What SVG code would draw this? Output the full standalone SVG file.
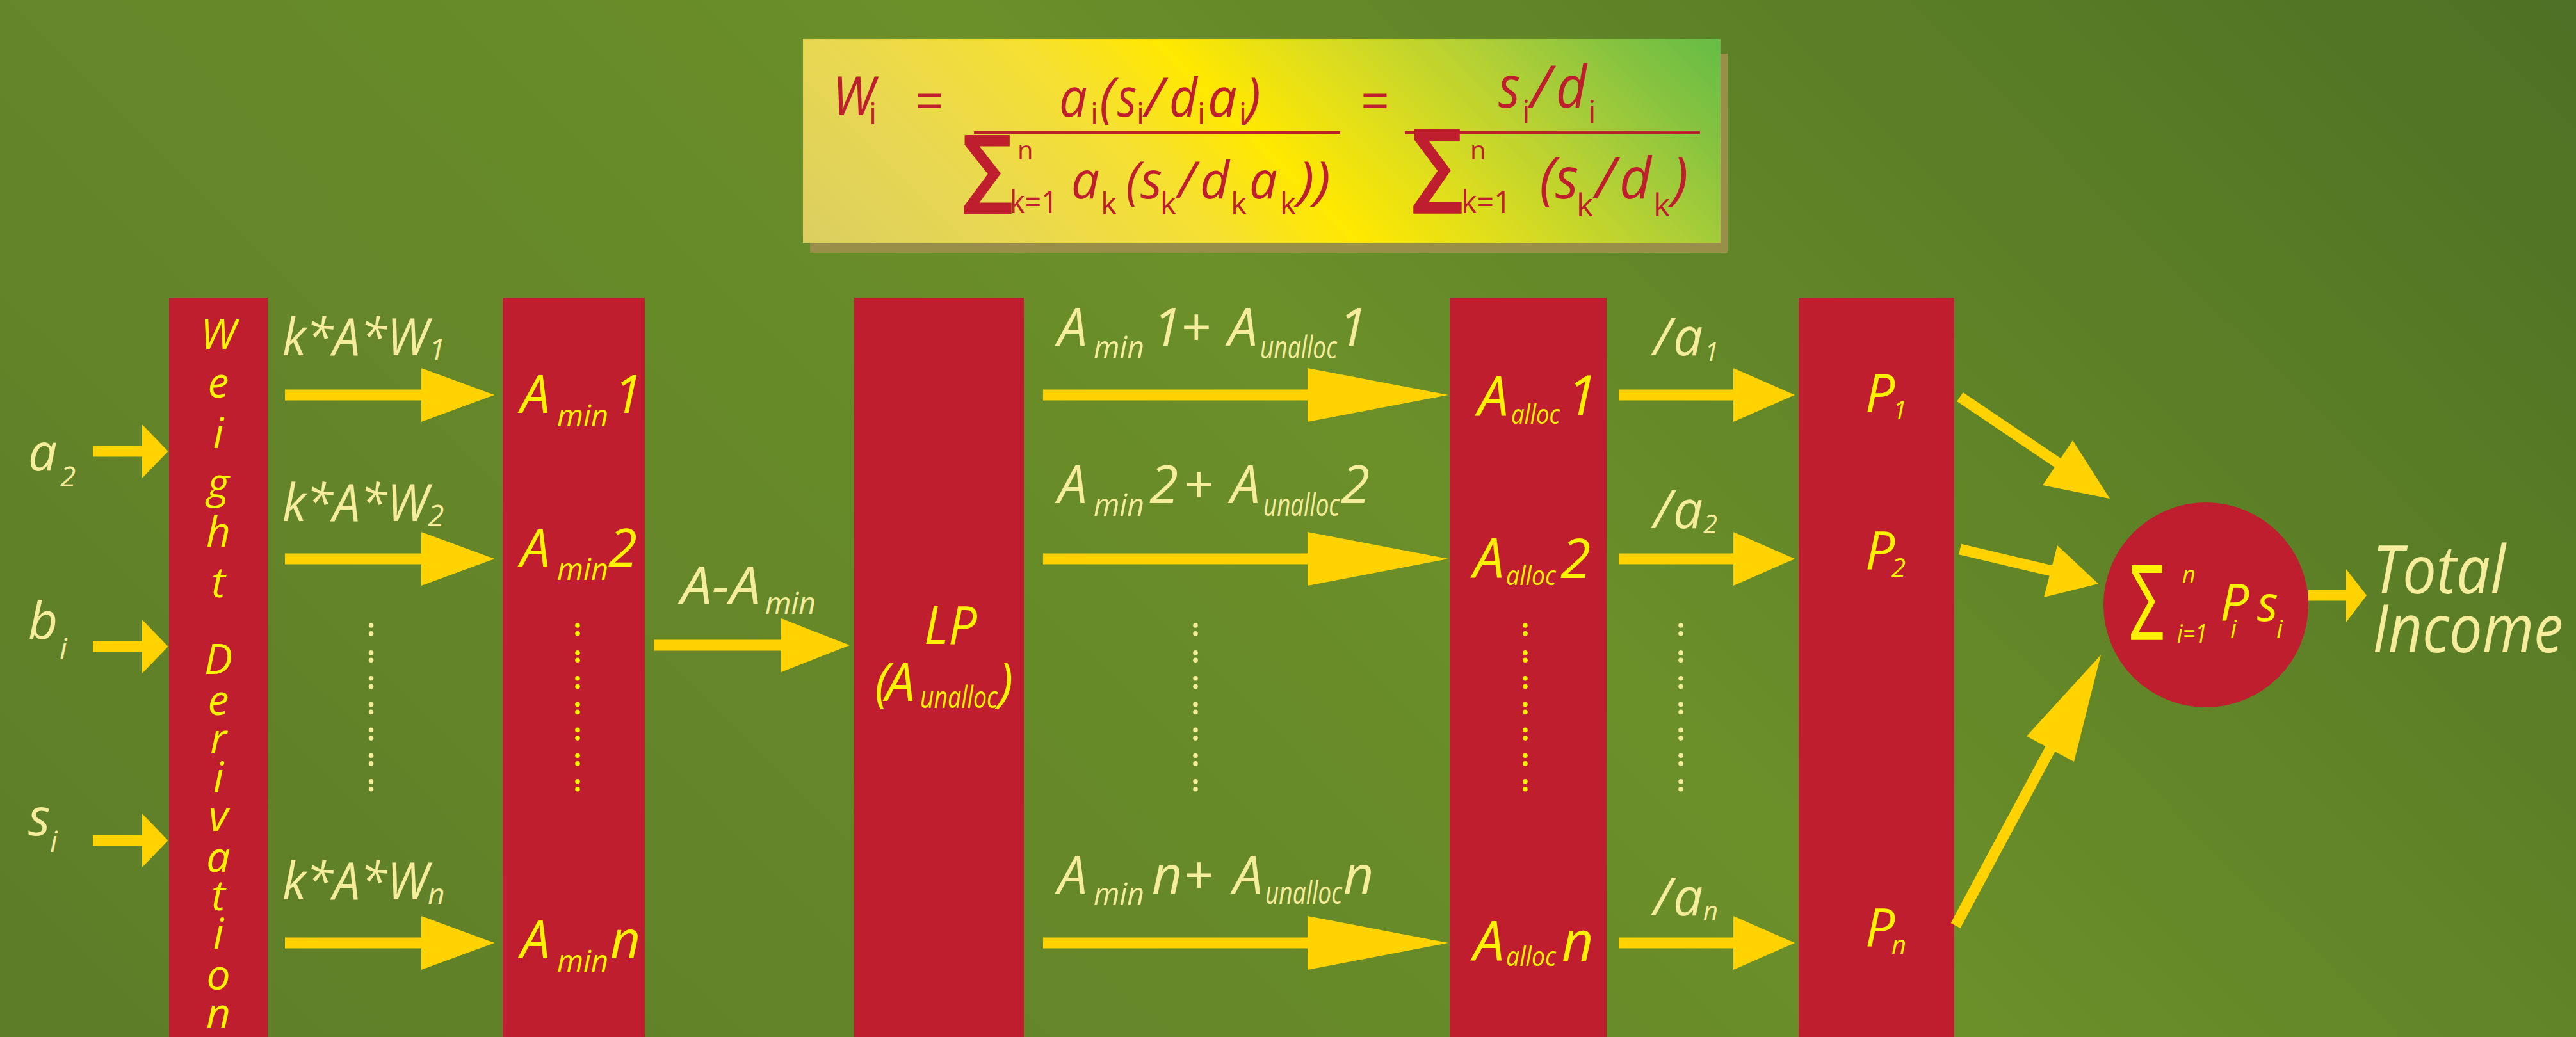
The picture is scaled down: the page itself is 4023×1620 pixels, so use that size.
<svg xmlns="http://www.w3.org/2000/svg" width="4023" height="1620" viewBox="0 0 4023 1620">
<style>
text{font-family:"Open Sans","Noto Sans",sans-serif;font-style:italic}
.ty{fill:#FFF200}
.tp{fill:#F6ED9C}
.tr{fill:#BE1E2D}
.up{font-style:normal}
.sig{font-family:"DejaVu Sans",sans-serif;font-weight:bold;font-style:oblique}
.sign{font-family:"DejaVu Sans",sans-serif;font-weight:normal;font-style:oblique}
.box{fill:#BE1E2D}
.sh{stroke:#FFD200;stroke-width:17;fill:none}
.hd{fill:#FFD200}
</style>
<defs>
<linearGradient id="bg" gradientUnits="userSpaceOnUse" x1="0" y1="1620" x2="2821" y2="-1201">
<stop offset="0" stop-color="#5D7C28"/>
<stop offset="0.55" stop-color="#6B8F29"/>
<stop offset="1" stop-color="#4D7024"/>
</linearGradient>
<linearGradient id="fg" gradientUnits="userSpaceOnUse" x1="1254" y1="379" x2="2129" y2="-496">
<stop offset="0" stop-color="#DBCE60"/>
<stop offset="0.2" stop-color="#E9D850"/>
<stop offset="0.38" stop-color="#F6E030"/>
<stop offset="0.5" stop-color="#FFE800"/>
<stop offset="0.62" stop-color="#E0DE1C"/>
<stop offset="0.78" stop-color="#B0CF36"/>
<stop offset="0.9" stop-color="#86C33F"/>
<stop offset="1" stop-color="#64BC46"/>
</linearGradient>
<g id="dots">
<circle cx="0" cy="0" r="3.8"/><circle cx="0" cy="12.8" r="3.8"/>
<circle cx="0" cy="42.9" r="3.8"/><circle cx="0" cy="54.2" r="3.8"/>
<circle cx="0" cy="82.8" r="3.8"/><circle cx="0" cy="95.5" r="3.8"/>
<circle cx="0" cy="123.4" r="3.8"/><circle cx="0" cy="135.4" r="3.8"/>
<circle cx="0" cy="163.4" r="3.8"/><circle cx="0" cy="176.1" r="3.8"/>
<circle cx="0" cy="203.2" r="3.8"/><circle cx="0" cy="215.9" r="3.8"/>
<circle cx="0" cy="243.8" r="3.8"/><circle cx="0" cy="255.8" r="3.8"/>
</g>
</defs>
<rect width="4023" height="1620" fill="url(#bg)"/>

<g id="formula">
<rect x="1265" y="84" width="1433" height="311" fill="#998F48"/>
<rect x="1254" y="61" width="1433" height="318" fill="url(#fg)"/>
<text class="tr" x="1300" y="180" font-size="84" textLength="66" lengthAdjust="spacingAndGlyphs">W</text>
<text class="tr up" x="1357" y="194" font-size="48">i</text>
<text class="tr up" x="1429" y="188" font-size="84" textLength="45" lengthAdjust="spacingAndGlyphs">=</text>
<g font-size="84">
<text class="tr" x="1654" y="182" textLength="44" lengthAdjust="spacingAndGlyphs">a</text>
<text class="tr" x="1717" y="182">(</text>
<text class="tr" x="1745" y="182" textLength="30" lengthAdjust="spacingAndGlyphs">s</text>
<text class="tr" x="1788" y="182">/</text>
<text class="tr" x="1826" y="182" textLength="44" lengthAdjust="spacingAndGlyphs">d</text>
<text class="tr" x="1886" y="182" textLength="46" lengthAdjust="spacingAndGlyphs">a</text>
<text class="tr" x="1945" y="182">)</text>
</g>
<g font-size="48">
<text class="tr up" x="1703" y="194">i</text>
<text class="tr up" x="1775" y="194">i</text>
<text class="tr up" x="1870" y="194">i</text>
<text class="tr up" x="1935" y="194">i</text>
</g>
<rect x="1521" y="205" width="572" height="4" fill="#BE1E2D"/>
<text class="tr up" x="2125" y="188" font-size="84" textLength="45" lengthAdjust="spacingAndGlyphs">=</text>
<text class="tr" x="2340" y="168" font-size="92" textLength="34" lengthAdjust="spacingAndGlyphs">s</text>
<text class="tr" x="2390" y="168" font-size="92">/</text>
<text class="tr" x="2430" y="168" font-size="92" textLength="48" lengthAdjust="spacingAndGlyphs">d</text>
<text class="tr up" x="2377" y="192" font-size="50">i</text>
<text class="tr up" x="2480" y="192" font-size="50">i</text>
<rect x="2194" y="205" width="461" height="4" fill="#BE1E2D"/>
<text class="tr sig" x="1503" y="308" font-size="135" textLength="79" lengthAdjust="spacingAndGlyphs">∑</text>
<text class="tr up" x="1589" y="249" font-size="40">n</text>
<text class="tr up" x="1577" y="333" font-size="50" textLength="75" lengthAdjust="spacingAndGlyphs">k=1</text>
<g font-size="80">
<text class="tr" x="1673" y="310" textLength="44" lengthAdjust="spacingAndGlyphs">a</text>
<text class="tr" x="1758" y="310">(</text>
<text class="tr" x="1781" y="310" textLength="34" lengthAdjust="spacingAndGlyphs">s</text>
<text class="tr" x="1839" y="310">/</text>
<text class="tr" x="1874" y="310" textLength="46" lengthAdjust="spacingAndGlyphs">d</text>
<text class="tr" x="1951" y="310" textLength="44" lengthAdjust="spacingAndGlyphs">a</text>
<text class="tr" x="2027" y="310" textLength="51" lengthAdjust="spacingAndGlyphs">))</text>
</g>
<g font-size="48">
<text class="tr up" x="1719" y="335">k</text>
<text class="tr up" x="1812" y="335">k</text>
<text class="tr up" x="1922" y="335">k</text>
<text class="tr up" x="1999" y="335">k</text>
</g>
<text class="tr sig" x="2205" y="306" font-size="145" textLength="80" lengthAdjust="spacingAndGlyphs">∑</text>
<text class="tr up" x="2296" y="249" font-size="40">n</text>
<text class="tr up" x="2282" y="333" font-size="50" textLength="78" lengthAdjust="spacingAndGlyphs">k=1</text>
<g font-size="90">
<text class="tr" x="2404" y="310">(</text>
<text class="tr" x="2429" y="310" textLength="36" lengthAdjust="spacingAndGlyphs">s</text>
<text class="tr" x="2491" y="310">/</text>
<text class="tr" x="2529" y="310" textLength="50" lengthAdjust="spacingAndGlyphs">d</text>
<text class="tr" x="2611" y="310">)</text>
</g>
<g font-size="50">
<text class="tr up" x="2462" y="338">k</text>
<text class="tr up" x="2582" y="338">k</text>
</g>
</g>

<g id="inputs">
<text class="tp" x="44" y="735" font-size="80">a</text><text class="tp" x="94" y="760" font-size="44">2</text>
<text class="tp" x="44" y="998" font-size="80">b</text><text class="tp" x="93" y="1030" font-size="46">i</text>
<text class="tp" x="44" y="1305" font-size="80">s</text><text class="tp" x="78" y="1331" font-size="46">i</text>
</g>

<g id="weight-derivation">
<rect class="box" x="264" y="465" width="154" height="1155"/>
<g class="ty" font-size="66" text-anchor="middle">
<text x="341" y="545">W</text><text x="341" y="621">e</text><text x="341" y="700">i</text>
<text x="341" y="778">g</text><text x="341" y="854">h</text><text x="341" y="933">t</text>
<text x="341" y="1053">D</text><text x="341" y="1117">e</text><text x="341" y="1177">r</text>
<text x="341" y="1238">i</text><text x="341" y="1298">v</text><text x="341" y="1362">a</text>
<text x="341" y="1422">t</text><text x="341" y="1482">i</text><text x="341" y="1546">o</text>
<text x="341" y="1606">n</text>
</g>
</g>

<g id="amin">
<rect class="box" x="785" y="465" width="222" height="1155"/>
<text class="ty" x="813" y="645" font-size="82">A</text><text class="ty" x="870" y="666" font-size="48" textLength="80" lengthAdjust="spacingAndGlyphs">min</text><text class="ty" x="958" y="645" font-size="82">1</text>
<text class="ty" x="813" y="885" font-size="82">A</text><text class="ty" x="870" y="906" font-size="48" textLength="80" lengthAdjust="spacingAndGlyphs">min</text><text class="ty" x="950" y="885" font-size="82">2</text>
<use href="#dots" x="902" y="977" fill="#FFF200"/>
<text class="ty" x="813" y="1497" font-size="82">A</text><text class="ty" x="870" y="1518" font-size="48" textLength="80" lengthAdjust="spacingAndGlyphs">min</text><text class="ty" x="953" y="1497" font-size="82">n</text>
</g>

<g id="lp">
<rect class="box" x="1334" y="465" width="265" height="1155"/>
<text class="ty" x="1443" y="1006" font-size="82" textLength="83" lengthAdjust="spacingAndGlyphs">LP</text>
<text class="ty" x="1366" y="1095" font-size="82">(</text>
<text class="ty" x="1383" y="1095" font-size="82">A</text>
<text class="ty" x="1437" y="1106" font-size="48" textLength="121" lengthAdjust="spacingAndGlyphs">unalloc</text>
<text class="ty" x="1559" y="1095" font-size="82">)</text>
</g>

<g id="aalloc">
<rect class="box" x="2264" y="465" width="245" height="1155"/>
<text class="ty" x="2308" y="650" font-size="86">A</text><text class="ty" x="2360" y="662" font-size="42" textLength="76" lengthAdjust="spacingAndGlyphs">alloc</text><text class="ty" x="2447" y="648" font-size="86">1</text>
<text class="ty" x="2301" y="903" font-size="86">A</text><text class="ty" x="2352" y="914" font-size="42" textLength="78" lengthAdjust="spacingAndGlyphs">alloc</text><text class="ty" x="2437" y="903" font-size="86">2</text>
<use href="#dots" x="2382" y="977" fill="#FFF200"/>
<text class="ty" x="2301" y="1501" font-size="86">A</text><text class="ty" x="2352" y="1509" font-size="42" textLength="78" lengthAdjust="spacingAndGlyphs">alloc</text><text class="ty" x="2439" y="1501" font-size="86">n</text>
</g>

<g id="p">
<rect class="box" x="2809" y="465" width="243" height="1155"/>
<text class="ty" x="2913" y="643" font-size="82">P</text><text class="ty" x="2956" y="655" font-size="40">1</text>
<text class="ty" x="2913" y="889" font-size="82">P</text><text class="ty" x="2954" y="901" font-size="40">2</text>
<text class="ty" x="2913" y="1478" font-size="82">P</text><text class="ty" x="2954" y="1490" font-size="40">n</text>
</g>

<g id="sum">
<circle cx="3445" cy="945" r="160" fill="#BE1E2D"/>
<text class="ty sign" x="3327" y="975" font-size="128" textLength="52" lengthAdjust="spacingAndGlyphs">∑</text>
<text class="ty" x="3408" y="910" font-size="36">n</text>
<text class="ty" x="3400" y="1004" font-size="40" textLength="47" lengthAdjust="spacingAndGlyphs">i=1</text>
<text class="ty" x="3467" y="970" font-size="80">P</text>
<text class="ty" x="3483" y="997" font-size="40">i</text>
<text class="ty" x="3525" y="970" font-size="76">s</text>
<text class="ty" x="3555" y="997" font-size="40">i</text>
</g>

<g id="total-income">
<text class="tp" x="3705" y="927" font-size="104" textLength="208" lengthAdjust="spacingAndGlyphs">Total</text>
<text class="tp" x="3705" y="1019" font-size="104" textLength="298" lengthAdjust="spacingAndGlyphs">Income</text>
</g>

<g id="connectors">
<path class="sh" d="M145 705H223M145 1010H223M145 1313H223"/>
<polygon class="hd" points="222,663 262.5,705 222,747"/>
<polygon class="hd" points="222,968 262.5,1010 222,1052"/>
<polygon class="hd" points="222,1271 262.5,1313 222,1355"/>

<path class="sh" d="M445 617H659M445 873H659M445 1473H659"/>
<polygon class="hd" points="658,575 772.5,617 658,659"/>
<polygon class="hd" points="658,831 772.5,873 658,915"/>
<polygon class="hd" points="658,1431 772.5,1473 658,1515"/>
<g class="tp">
<text x="441" y="555" font-size="80" textLength="228" lengthAdjust="spacingAndGlyphs">k*A*W</text><text x="670" y="562" font-size="46">1</text>
<text x="441" y="814" font-size="80" textLength="228" lengthAdjust="spacingAndGlyphs">k*A*W</text><text x="668" y="822" font-size="46">2</text>
<text x="441" y="1405" font-size="80" textLength="228" lengthAdjust="spacingAndGlyphs">k*A*W</text><text x="668" y="1413" font-size="46">n</text>
</g>
<use href="#dots" x="579.5" y="977" fill="#F6ED9C"/>

<path class="sh" d="M1021 1008H1221"/>
<polygon class="hd" points="1220,966 1327,1008 1220,1050"/>
<g class="tp">
<text x="1063" y="944" font-size="82" textLength="125" lengthAdjust="spacingAndGlyphs">A-A</text>
<text x="1195" y="959" font-size="48" textLength="79" lengthAdjust="spacingAndGlyphs">min</text>
</g>

<path class="sh" d="M1629 617H2043M1629 873H2043M1629 1473H2043"/>
<polygon class="hd" points="2042,575 2262,617 2042,659"/>
<polygon class="hd" points="2042,831 2262,873 2042,915"/>
<polygon class="hd" points="2042,1431 2262,1473 2042,1515"/>
<g class="tp">
<text x="1652" y="540" font-size="82">A</text><text x="1708" y="560" font-size="50" textLength="79" lengthAdjust="spacingAndGlyphs">min</text><text x="1800" y="540" font-size="82">1</text><text class="up" x="1845" y="540" font-size="82">+</text><text x="1918" y="540" font-size="82">A</text><text x="1968" y="560" font-size="50" textLength="120" lengthAdjust="spacingAndGlyphs">unalloc</text><text x="2090" y="540" font-size="82">1</text>
<text x="1652" y="786" font-size="82">A</text><text x="1708" y="806" font-size="50" textLength="79" lengthAdjust="spacingAndGlyphs">min</text><text x="1795" y="786" font-size="82">2</text><text class="up" x="1849" y="786" font-size="82">+</text><text x="1922" y="786" font-size="82">A</text><text x="1973" y="806" font-size="50" textLength="119" lengthAdjust="spacingAndGlyphs">unalloc</text><text x="2094" y="786" font-size="82">2</text>
<text x="1652" y="1396" font-size="82">A</text><text x="1708" y="1414" font-size="50" textLength="79" lengthAdjust="spacingAndGlyphs">min</text><text x="1799" y="1396" font-size="82">n</text><text class="up" x="1849" y="1396" font-size="82">+</text><text x="1926" y="1396" font-size="82">A</text><text x="1976" y="1412" font-size="50" textLength="120" lengthAdjust="spacingAndGlyphs">unalloc</text><text x="2098" y="1396" font-size="82">n</text>
</g>
<use href="#dots" x="1867" y="977" fill="#F6ED9C"/>

<path class="sh" d="M2528 617H2708M2528 873H2708M2528 1473H2708"/>
<polygon class="hd" points="2707,575 2803,617 2707,659"/>
<polygon class="hd" points="2707,831 2803,873 2707,915"/>
<polygon class="hd" points="2707,1431 2803,1473 2707,1515"/>
<g class="tp">
<text x="2582" y="555" font-size="82">/</text><text x="2613" y="555" font-size="82">a</text><text x="2662" y="564" font-size="40">1</text>
<text x="2582" y="825" font-size="82">/</text><text x="2613" y="825" font-size="82">a</text><text x="2660" y="833" font-size="40">2</text>
<text x="2582" y="1430" font-size="82">/</text><text x="2613" y="1430" font-size="82">a</text><text x="2660" y="1437" font-size="40">n</text>
</g>
<use href="#dots" x="2625" y="977" fill="#F6ED9C"/>

<path class="sh" stroke-width="15" d="M3061 620L3215 724M3061 858L3205 892M3054 1446L3203 1168"/>
<polygon class="hd" points="3190,758 3295,779 3237,688"/>
<polygon class="hd" points="3213,852 3277,912 3192,933"/>
<polygon class="hd" points="3165,1150 3281,1023 3239,1190"/>

<path class="sh" d="M3605 930H3665"/>
<polygon class="hd" points="3664,889 3696,930 3664,972"/>
</g>
</svg>
